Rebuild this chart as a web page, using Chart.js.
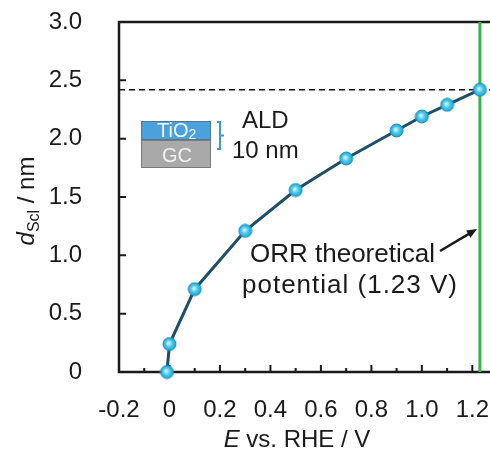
<!DOCTYPE html>
<html>
<head>
<meta charset="utf-8">
<script src="https://cdn.jsdelivr.net/npm/chart.js@4.4.0/dist/chart.umd.min.js"></script>
<style>
  html, body { margin: 0; padding: 0; background: #fff; }
  #wrap { width: 490px; height: 450px; }
</style>
</head>
<body>
<div id="wrap"><canvas id="scl" width="490" height="450"></canvas></div>
<script>
// space-charge layer thickness vs. potential
var potentialE = [-0.01, 0, 0.1, 0.3, 0.5, 0.7, 0.9, 1.0, 1.1, 1.23];
var thicknessD = [0, 0.24, 0.71, 1.21, 1.56, 1.83, 2.07, 2.19, 2.29, 2.42];

// reference lines
var orrPotential = [1.23];
var maxThickness = [2.42];

// axes
var xMajor = [-0.2, 0, 0.2, 0.4, 0.6, 0.8, 1.0, 1.2];
var xMinor = [-0.1, 0.1, 0.3, 0.5, 0.7, 0.9, 1.1];
var xTickLabels = ['-0.2', '0', '0.2', '0.4', '0.6', '0.8', '1.0', '1.2'];
var yMajor = [0, 0.5, 1.0, 1.5, 2.0, 2.5, 3.0];
var yTickLabels = ['0', '0.5', '1.0', '1.5', '2.0', '2.5', '3.0'];

var FONT = 'Liberation Sans, Arial, sans-serif';
var INK = '#1a1a1a';

// shiny cyan bead used as point style
function makeBead(r) {
  var s = 2 * r + 2;
  var c = document.createElement('canvas');
  c.width = s; c.height = s;
  var g = c.getContext('2d');
  var grad = g.createRadialGradient(s / 2 - 1, s / 2 - 1, 0.5, s / 2, s / 2, r);
  grad.addColorStop(0, '#d2f6ff');
  grad.addColorStop(0.5, '#4cc8ea');
  grad.addColorStop(1, '#1ba5d3');
  g.beginPath();
  g.arc(s / 2, s / 2, r, 0, Math.PI * 2);
  g.fillStyle = grad;
  g.fill();
  g.lineWidth = 1;
  g.strokeStyle = '#1790bd';
  g.stroke();
  return c;
}

var points = potentialE.map(function (e, i) { return { x: e, y: thicknessD[i] }; });

function noPad(s) {
  s.paddingTop = 0; s.paddingBottom = 0; s.paddingLeft = 0; s.paddingRight = 0;
}

// axes frame, inward ticks and the text annotations
var framePlugin = {
  id: 'frame',
  beforeDatasetsDraw: function (chart) {
    var ctx = chart.ctx, a = chart.chartArea;
    var xs = chart.scales.x, ys = chart.scales.y;
    ctx.save();
    ctx.strokeStyle = INK;
    ctx.lineWidth = 2.5;
    ctx.beginPath();
    ctx.moveTo(a.right, a.top);
    ctx.lineTo(a.left, a.top);
    ctx.lineTo(a.left, a.bottom);
    ctx.lineTo(a.right, a.bottom);
    ctx.stroke();
    ctx.lineWidth = 2;
    ctx.beginPath();
    xMajor.forEach(function (v) {
      var px = xs.getPixelForValue(v);
      ctx.moveTo(px, a.bottom); ctx.lineTo(px, a.bottom - 7);
    });
    xMinor.forEach(function (v) {
      var px = xs.getPixelForValue(v);
      ctx.moveTo(px, a.bottom); ctx.lineTo(px, a.bottom - 4);
    });
    yMajor.forEach(function (v) {
      var py = ys.getPixelForValue(v);
      ctx.moveTo(a.left, py); ctx.lineTo(a.left + 7, py);
    });
    ctx.stroke();
    ctx.restore();
  },
  afterDraw: function (chart) {
    var ctx = chart.ctx, a = chart.chartArea;
    ctx.save();
    ctx.fillStyle = INK;
    ctx.textBaseline = 'alphabetic';

    // y title: d_Scl / nm
    ctx.save();
    ctx.translate(34, (a.top + a.bottom) / 2 + 4);
    ctx.rotate(-Math.PI / 2);
    var big = '24px ' + FONT, it = 'italic 24px ' + FONT, sub = '16px ' + FONT;
    ctx.font = it; var w1 = ctx.measureText('d').width;
    ctx.font = sub; var w2 = ctx.measureText('Scl').width;
    ctx.font = big; var w3 = ctx.measureText(' / nm').width;
    var x0 = -(w1 + w2 + w3) / 2;
    ctx.font = it; ctx.fillText('d', x0, 0);
    ctx.font = sub; ctx.fillText('Scl', x0 + w1, 5);
    ctx.font = big; ctx.fillText(' / nm', x0 + w1 + w2, 0);
    ctx.restore();

    // x title: E vs. RHE / V
    ctx.font = it; var e1 = ctx.measureText('E').width;
    ctx.font = big; var e2 = ctx.measureText(' vs. RHE / V').width;
    var tx = 297 - (e1 + e2) / 2;
    ctx.font = it; ctx.fillText('E', tx, 447);
    ctx.font = big; ctx.fillText(' vs. RHE / V', tx + e1, 447);

    // TiO2 / GC stack
    ctx.lineWidth = 1;
    ctx.fillStyle = '#4aa1db';
    ctx.fillRect(141, 121, 70, 19);
    ctx.strokeStyle = '#4f7890';
    ctx.strokeRect(141.5, 121.5, 69, 18);
    ctx.fillStyle = '#a9a9a9';
    ctx.fillRect(141, 140, 70, 28);
    ctx.strokeStyle = '#7a7a7a';
    ctx.strokeRect(141.5, 140.5, 69, 27);
    ctx.fillStyle = '#eef7fc';
    ctx.font = '20px ' + FONT;
    ctx.fillText('TiO', 157, 137);
    var tw = ctx.measureText('TiO').width;
    ctx.font = '14px ' + FONT;
    ctx.fillText('2', 157 + tw, 139);
    ctx.fillStyle = '#f2f2f2';
    ctx.font = '20px ' + FONT;
    ctx.fillText('GC', 162, 162);

    // bracket
    ctx.strokeStyle = '#3a9cc2';
    ctx.lineWidth = 2;
    ctx.beginPath();
    ctx.moveTo(217, 122); ctx.lineTo(220, 122); ctx.lineTo(220, 149); ctx.lineTo(217, 149);
    ctx.moveTo(220, 135.5); ctx.lineTo(224, 135.5);
    ctx.stroke();

    ctx.fillStyle = INK;
    ctx.font = '24px ' + FONT;
    ctx.fillText('ALD', 242, 128);
    ctx.fillText('10 nm', 232, 158);

    ctx.font = '26px ' + FONT;
    ctx.fillText('ORR theoretical', 250, 262);
    ctx.letterSpacing = '1px';
    ctx.fillText('potential (1.23 V)', 242, 293);
    ctx.letterSpacing = '0px';

    // arrow to the ORR line
    var ax0 = 440, ay0 = 251, ax1 = 477, ay1 = 229;
    var ang = Math.atan2(ay1 - ay0, ax1 - ax0);
    ctx.strokeStyle = INK;
    ctx.lineWidth = 2.5;
    ctx.beginPath();
    ctx.moveTo(ax0, ay0);
    ctx.lineTo(ax1 - 6 * Math.cos(ang), ay1 - 6 * Math.sin(ang));
    ctx.stroke();
    ctx.beginPath();
    ctx.moveTo(ax1, ay1);
    ctx.lineTo(ax1 - 11 * Math.cos(ang - 0.4), ay1 - 11 * Math.sin(ang - 0.4));
    ctx.lineTo(ax1 - 11 * Math.cos(ang + 0.4), ay1 - 11 * Math.sin(ang + 0.4));
    ctx.closePath();
    ctx.fill();
    ctx.restore();
  }
};

var ctxScl = document.getElementById('scl').getContext('2d');

var sclChart = new Chart(ctxScl, {
  type: 'scatter',
  data: {
    datasets: [
      {
        data: points,
        showLine: true,
        borderColor: '#1d4f68',
        borderWidth: 3,
        pointStyle: makeBead(6.5),
        pointRadius: 7,
        clip: false
      },
      {
        data: [{ x: -0.2, y: maxThickness[0] }, { x: 1.27, y: maxThickness[0] }],
        showLine: true,
        borderColor: '#111',
        borderWidth: 1.5,
        borderDash: [6, 4],
        pointRadius: 0
      },
      {
        data: [{ x: orrPotential[0], y: 0 }, { x: orrPotential[0], y: 3 }],
        showLine: true,
        borderColor: '#34b44a',
        borderWidth: 3,
        pointRadius: 0
      }
    ]
  },
  options: {
    responsive: false,
    animation: false,
    layout: { autoPadding: false, padding: { top: 22, right: 0, bottom: 0, left: 0 } },
    plugins: {
      legend: { display: false },
      tooltip: { enabled: false }
    },
    scales: {
      x: {
        type: 'linear',
        min: -0.2,
        max: 1.27,
        grid: { display: false },
        border: { display: false },
        afterBuildTicks: function (s) { s.ticks = xMajor.map(function (v) { return { value: v }; }); },
        afterFit: function (s) { s.height = 78; noPad(s); },
        ticks: {
          padding: 16,
          color: INK,
          maxRotation: 0,
          autoSkip: false,
          font: { family: FONT, size: 24 },
          callback: function (v, i) { return xTickLabels[i]; }
        }
      },
      y: {
        type: 'linear',
        min: 0,
        max: 3,
        grid: { display: false },
        border: { display: false },
        afterBuildTicks: function (s) { s.ticks = yMajor.map(function (v) { return { value: v }; }); },
        afterFit: function (s) { s.width = 119; noPad(s); },
        ticks: {
          padding: 29,
          color: INK,
          autoSkip: false,
          font: { family: FONT, size: 24 },
          callback: function (v, i) { return yTickLabels[i]; }
        }
      }
    }
  },
  plugins: [framePlugin]
});
</script>
</body>
</html>
